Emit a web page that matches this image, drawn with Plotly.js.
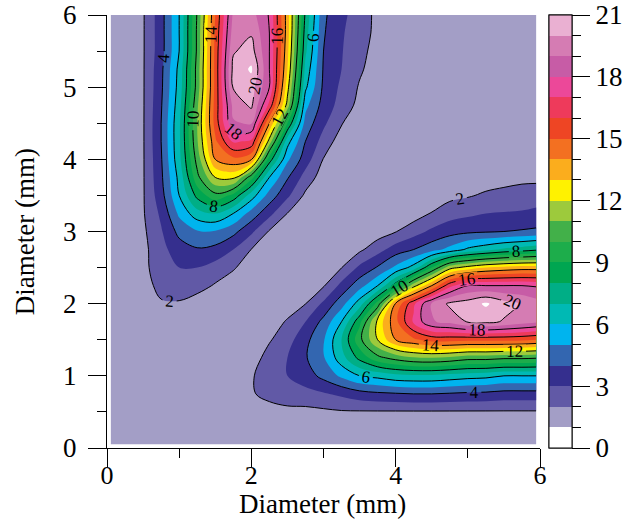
<!DOCTYPE html>
<html>
<head>
<meta charset="utf-8">
<script src="https://cdn.plot.ly/plotly-3.0.1.min.js"></script>
<style>html,body{margin:0;padding:0;background:#fff;}</style>
</head>
<body>
<div id="chart" style="width:630px;height:520px;"></div>
<script>
// Grid of diameters (mm)
const xDiam = [0.05,0.25,0.5,0.75,1.0,1.25,1.5,1.75,2.0,2.25,2.5,2.75,3.0,3.25,3.5,3.75,4.0,4.25,4.5,4.75,5.0,5.25,5.5,5.75,5.95];
const yDiam = [0.05,0.25,0.5,0.75,1.0,1.25,1.5,1.75,2.0,2.25,2.5,2.75,3.0,3.25,3.5,3.75,4.0,4.25,4.5,4.75,5.0,5.25,5.5,5.75,6.0];

// Values (rows follow yDiam, columns follow xDiam)
const zValues = [
 [1.5,1.5,1.5,1.5,1.5,1.5,1.5,1.5,1.5,1.5,1.5,1.5,1.5,1.5,1.5,1.5,1.5,1.5,1.5,1.5,1.5,1.5,1.5,1.5,1.5],
 [1.5,1.5,1.5,1.5,1.5,1.5,1.5,1.5,1.5,1.5,1.5,1.5,1.5,1.5,1.5,1.5,1.5,1.5,1.5,1.5,1.5,1.5,1.5,1.5,1.5],
 [1.5,1.5,1.5,1.5,1.5,1.5,1.5,1.5,1.5,1.6,1.7,1.7,1.8,1.9,1.9,1.9,1.9,1.9,1.9,1.9,1.9,1.9,1.9,1.9,1.9],
 [1.5,1.5,1.5,1.5,1.5,1.5,1.5,1.5,1.9,2.3,2.6,2.7,2.9,3.2,3.6,3.8,3.9,4.0,4.0,3.9,3.8,3.75,3.6,3.6,3.6],
 [1.5,1.5,1.5,1.5,1.5,1.5,1.5,1.5,1.9,2.5,3.0,3.5,4.3,5.2,6.0,6.3,6.7,6.8,6.8,6.6,6.4,6.3,6.0,6.0,6.0],
 [1.5,1.5,1.5,1.5,1.5,1.5,1.5,1.5,1.5,2.4,3.0,3.9,4.9,6.6,8.3,9.7,10.4,10.9,11.0,10.8,10.4,10.4,10.2,10.2,10.1],
 [1.5,1.5,1.5,1.5,1.5,1.5,1.5,1.5,1.5,1.9,2.6,3.7,4.9,7.0,9.7,12.0,14.0,14.8,15.4,15.4,15.3,15.3,15.3,15.2,15.0],
 [1.5,1.5,1.5,1.5,1.5,1.5,1.5,1.5,1.5,1.5,2.1,3.0,4.3,6.0,8.7,12.3,14.7,17.2,18.9,19.3,20.1,20.3,19.9,19.5,19.2],
 [1.5,1.5,1.5,1.9,1.9,1.5,1.5,1.5,1.5,1.5,1.5,1.98,3.2,4.6,6.5,9.4,14.1,16.8,19.1,20.2,20.5,21.15,20.4,19.9,19.4],
 [1.5,1.5,1.6,2.3,2.5,2.4,1.9,1.5,1.5,1.5,1.5,1.5,1.9,3.3,4.6,6.0,8.5,11.6,14.0,16.7,18.0,18.0,18.0,18.0,17.9],
 [1.5,1.5,1.7,2.6,3.0,3.0,2.6,2.1,1.5,1.5,1.5,1.5,1.5,1.98,3.2,4.1,5.2,6.4,9.0,11.6,12.4,13.0,13.3,13.5,13.5],
 [1.5,1.5,1.7,2.7,3.5,3.9,3.7,3.0,1.98,1.5,1.5,1.5,1.5,1.5,1.8,2.6,3.5,4.0,4.6,5.3,6.2,6.7,7.2,7.5,7.8],
 [1.5,1.5,1.8,2.9,4.3,4.9,4.9,4.3,3.2,1.9,1.5,1.5,1.5,1.5,1.5,1.5,1.95,2.6,3.2,3.6,3.8,3.9,4.0,4.1,4.2],
 [1.5,1.5,1.9,3.2,5.2,6.6,7.0,6.0,4.6,3.3,1.98,1.5,1.5,1.5,1.5,1.5,1.5,1.5,2.05,2.6,2.8,3.0,3.05,3.1,3.2],
 [1.5,1.5,1.9,3.6,6.0,8.3,9.7,8.7,6.5,4.6,3.2,1.8,1.5,1.5,1.5,1.5,1.5,1.5,1.5,1.7,1.9,2.15,2.4,2.5,2.6],
 [1.5,1.5,1.9,3.8,6.3,9.7,12.0,12.3,9.4,6.0,4.1,2.6,1.5,1.5,1.5,1.5,1.5,1.5,1.5,1.5,1.5,1.5,1.5,1.7,1.7],
 [1.5,1.5,1.9,3.9,6.7,10.4,14.0,14.7,14.1,8.5,5.2,3.5,1.95,1.5,1.5,1.5,1.5,1.5,1.5,1.5,1.5,1.5,1.5,1.5,1.5],
 [1.5,1.5,1.9,4.0,6.8,10.9,14.8,17.2,16.8,11.6,6.4,4.0,2.6,1.5,1.5,1.5,1.5,1.5,1.5,1.5,1.5,1.5,1.5,1.5,1.5],
 [1.5,1.5,1.9,4.0,6.8,11.0,15.4,18.9,19.1,14.0,9.0,4.6,3.2,2.05,1.5,1.5,1.5,1.5,1.5,1.5,1.5,1.5,1.5,1.5,1.5],
 [1.5,1.5,1.9,3.9,6.6,10.8,15.4,19.3,20.2,16.7,11.6,5.3,3.6,2.6,1.7,1.5,1.5,1.5,1.5,1.5,1.5,1.5,1.5,1.5,1.5],
 [1.5,1.5,1.9,3.8,6.4,10.4,15.3,20.1,20.5,18.0,12.4,6.2,3.8,2.8,1.9,1.5,1.5,1.5,1.5,1.5,1.5,1.5,1.5,1.5,1.5],
 [1.5,1.5,1.9,3.75,6.3,10.4,15.3,20.3,21.15,18.0,13.0,6.7,3.9,3.0,2.15,1.5,1.5,1.5,1.5,1.5,1.5,1.5,1.5,1.5,1.5],
 [1.5,1.5,1.9,3.6,6.0,10.2,15.3,19.9,20.4,18.0,13.3,7.2,4.0,3.05,2.4,1.5,1.5,1.5,1.5,1.5,1.5,1.5,1.5,1.5,1.5],
 [1.5,1.5,1.9,3.6,6.0,10.2,15.2,19.5,19.9,18.0,13.5,7.5,4.1,3.1,2.5,1.7,1.5,1.5,1.5,1.5,1.5,1.5,1.5,1.5,1.5],
 [1.5,1.5,1.9,3.6,6.0,10.1,15.0,19.2,19.4,17.9,13.5,7.8,4.2,3.2,2.6,1.7,1.5,1.5,1.5,1.5,1.5,1.5,1.5,1.5,1.5]
];

// Band colours, one per unit from 0-1 up to 20-21, then above 21
const bandColors = ['#FFFFFF','#A39EC6','#6159A6','#352F8E','#3366B0','#00B4EE','#00B9B4','#00AE86',
  '#00A651','#1DAD4B','#42B049','#9DCA3C','#FFF200','#FBAD1D','#F37021','#EE4524','#EE3A5B',
  '#EC4899','#C75CA6','#D57CB3','#EAB0D2','#FFFFFF'];
const cbMajorTicks = [0,3,6,9,12,15,18,21];
const cbMinorTicks = [0,1,2,3,4,5,6,7,8,9,10,11,12,13,14,15,16,17,18,19,20,21];
const xTicks = [0,2,4,6];
const yTicks = [0,1,2,3,4,5,6];
const axisTitle = 'Diameter (mm)';

const serif = '"Liberation Serif", "Times New Roman", serif';
const nBands = 21;

// colorscale for the filled contour (each band sampled at its middle)
const fillScale = bandColors.map((c, k) => [k / nBands, c]);
// stepped colorscale for the colour bar
const barScale = [];
for (let k = 0; k < nBands; k++) {
  barScale.push([k / nBands, bandColors[k]]);
  barScale.push([(k + 1) / nBands, bandColors[k]]);
}

function barTrace(ticks, len, labels) {
  return {
    type: 'heatmap', x: xDiam, y: yDiam, z: zValues,
    zmin: 0, zmax: 21, colorscale: barScale, opacity: 0, hoverinfo: 'skip',
    showscale: true,
    colorbar: {
      thickness: 23, thicknessmode: 'pixels', len: 1, lenmode: 'fraction',
      x: 1.0208, xanchor: 'left', xpad: 0, ypad: 0, y: 0.5, yanchor: 'middle',
      outlinewidth: 1, outlinecolor: '#000', borderwidth: 0,
      tickmode: 'array', tickvals: ticks,
      ticks: 'outside', ticklen: len, tickwidth: 1, tickcolor: '#000',
      showticklabels: labels, ticklabeloverflow: 'allow',
      tickfont: {family: serif, size: 27, color: '#000'}
    }
  };
}

const fillTrace = {
  type: 'contour', x: xDiam, y: yDiam, z: zValues,
  autocontour: false,
  contours: {start: 1, end: 21, size: 1, coloring: 'fill', showlines: false},
  colorscale: fillScale, showscale: false,
  line: {width: 0, smoothing: 1},
  hoverinfo: 'skip'
};

const lineTrace = {
  type: 'contour', x: xDiam, y: yDiam, z: zValues,
  autocontour: false,
  contours: {start: 2, end: 20, size: 2, coloring: 'none', showlines: true,
             showlabels: true, labelfont: {family: serif, size: 17, color: '#000'}},
  line: {color: '#000', width: 1, smoothing: 1},
  showscale: false, hoverinfo: 'skip'
};

const tickFont = {family: serif, size: 26, color: '#000'};
const titleFont = {family: serif, size: 27, color: '#000'};

const layout = {
  width: 630, height: 520,
  margin: {l: 107, r: 90, t: 15, b: 72, pad: 0, autoexpand: false},
  paper_bgcolor: '#fff', plot_bgcolor: '#fff',
  font: {family: serif, size: 28, color: '#000'},
  hovermode: false,
  showlegend: false,
  xaxis: {
    range: [0, 6], tickmode: 'array', tickvals: xTicks,
    ticks: 'outside', ticklen: 18, tickwidth: 1, tickcolor: '#000',
    minor: {dtick: 1, tick0: 0, ticks: 'outside', ticklen: 9, tickwidth: 1, tickcolor: '#000', showgrid: false},
    showline: true, linecolor: '#000', linewidth: 1, mirror: false,
    showgrid: false, zeroline: false, automargin: false,
    ticklabelstandoff: -14, ticklabeloverflow: 'allow',
    tickfont: tickFont,
    title: {text: ''}
  },
  yaxis: {
    range: [0, 6], tickmode: 'array', tickvals: yTicks,
    ticks: 'outside', ticklen: 18, tickwidth: 1, tickcolor: '#000',
    minor: {dtick: 0.5, tick0: 0, ticks: 'outside', ticklen: 9, tickwidth: 1, tickcolor: '#000', showgrid: false},
    showline: true, linecolor: '#000', linewidth: 1, mirror: false,
    showgrid: false, zeroline: false, automargin: false,
    ticklabelstandoff: 6, ticklabeloverflow: 'allow',
    tickfont: {family: serif, size: 27, color: '#000'},
    title: {text: ''}
  },
  annotations: [
    {text: axisTitle, showarrow: false, xref: 'paper', yref: 'paper',
     x: 0.497, y: -0.1663, xanchor: 'center', yanchor: 'bottom', font: titleFont, borderpad: 0},
    {text: axisTitle, textangle: -90, showarrow: false, xref: 'paper', yref: 'paper',
     x: -0.19, y: 0.5, xanchor: 'center', yanchor: 'middle', font: titleFont}
  ]
};

Plotly.newPlot('chart', [barTrace(cbMinorTicks, 9, false), barTrace(cbMajorTicks, 18, true), fillTrace, lineTrace],
  layout, {displayModeBar: false, staticPlot: true});
</script>
</body>
</html>
